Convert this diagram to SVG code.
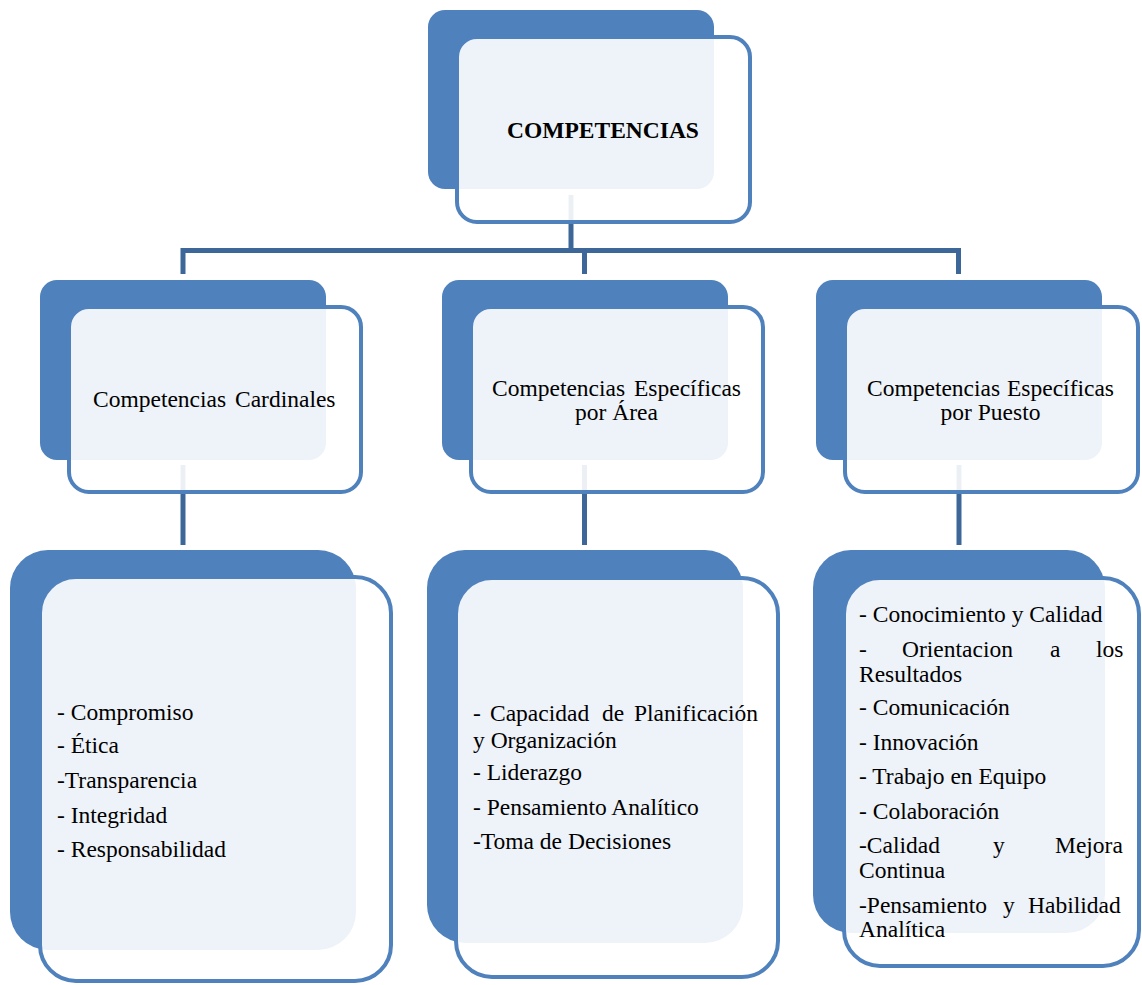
<svg xmlns="http://www.w3.org/2000/svg" width="1142" height="985" viewBox="0 0 1142 985">
<style>
.back{fill:#4F81BD}
.front{fill:#FFFFFF;fill-opacity:0.9;stroke:#4F81BD;stroke-width:4}
.conn{stroke:#3D6699;stroke-width:5;fill:none}
text{font-family:"Liberation Serif","Times New Roman",serif;font-size:23.5px;fill:#000}
.b{font-weight:bold}
.m{text-anchor:middle}
</style>
<rect width="1142" height="985" fill="#FFFFFF"/>
<g id="connectors">
<path class="conn" d="M571,195 V250.5"/>
<path class="conn" d="M183,274 V250.5 H958.5 V274"/>
<path class="conn" d="M584.5,250.5 V274"/>
<path class="conn" d="M183,465 V545"/>
<path class="conn" d="M584.5,465 V545"/>
<path class="conn" d="M959,465 V545"/>
</g>
<g id="node-competencias">
<rect class="back" x="428" y="10" width="286" height="179" rx="17"/>
<rect class="front" x="457" y="37" width="293" height="185" rx="20"/>
<text class="b" x="507" y="138">COMPETENCIAS</text>
</g>
<g id="node-cardinales">
<rect class="back" x="40" y="280" width="286" height="180" rx="17"/>
<rect class="front" x="69" y="307" width="292" height="185" rx="20"/>
<text y="407"><tspan x="93">Competencias</tspan><tspan x="235">Cardinales</tspan></text>
</g>
<g id="node-area">
<rect class="back" x="442" y="280" width="286" height="180" rx="17"/>
<rect class="front" x="471" y="307" width="292" height="185" rx="20"/>
<text y="396"><tspan x="492">Competencias</tspan><tspan x="634">Específicas</tspan></text>
<text class="m" x="616.5" y="420">por Área</text>
</g>
<g id="node-puesto">
<rect class="back" x="816" y="280" width="286" height="180" rx="17"/>
<rect class="front" x="845" y="307" width="293" height="185" rx="20"/>
<text y="396"><tspan x="867">Competencias</tspan><tspan x="1007">Específicas</tspan></text>
<text class="m" x="990.5" y="420">por Puesto</text>
</g>
<g id="list-cardinales">
<rect class="back" x="10" y="550" width="346" height="400" rx="38"/>
<rect class="front" x="40" y="577" width="351" height="404" rx="36"/>
<text x="57" y="720">- Compromiso</text>
<text x="57" y="753">- Ética</text>
<text x="57" y="788">-Transparencia</text>
<text x="57" y="823">- Integridad</text>
<text x="57" y="857">- Responsabilidad</text>
</g>
<g id="list-area">
<rect class="back" x="427" y="550" width="316" height="393" rx="38"/>
<rect class="front" x="456" y="578" width="322" height="399" rx="36"/>
<text><tspan x="473" y="721">-</tspan><tspan x="490" y="721">Capacidad</tspan><tspan x="602" y="721">de</tspan><tspan x="634" y="721">Planificación</tspan><tspan x="473" y="748">y Organización</tspan></text>
<text x="473" y="780">- Liderazgo</text>
<text x="473" y="815">- Pensamiento Analítico</text>
<text x="473" y="849">-Toma de Decisiones</text>
</g>
<g id="list-puesto">
<rect class="back" x="813" y="550" width="292" height="383" rx="38"/>
<rect class="front" x="844" y="578" width="295" height="388" rx="36"/>
<text x="859" y="622">- Conocimiento y Calidad</text>
<text><tspan x="859" y="657">-</tspan><tspan x="902" y="657">Orientacion</tspan><tspan x="1050" y="657">a</tspan><tspan x="1096" y="657">los</tspan><tspan x="859" y="682">Resultados</tspan></text>
<text x="859" y="715">- Comunicación</text>
<text x="859" y="750">- Innovación</text>
<text x="859" y="784">- Trabajo en Equipo</text>
<text x="859" y="819">- Colaboración</text>
<text><tspan x="859" y="853">-Calidad</tspan><tspan x="993" y="853">y</tspan><tspan x="1055" y="853">Mejora</tspan><tspan x="859" y="878">Continua</tspan></text>
<text><tspan x="859" y="913">-Pensamiento</tspan><tspan x="1003" y="913">y</tspan><tspan x="1028" y="913">Habilidad</tspan><tspan x="859" y="937">Analítica</tspan></text>
</g>
</svg>
